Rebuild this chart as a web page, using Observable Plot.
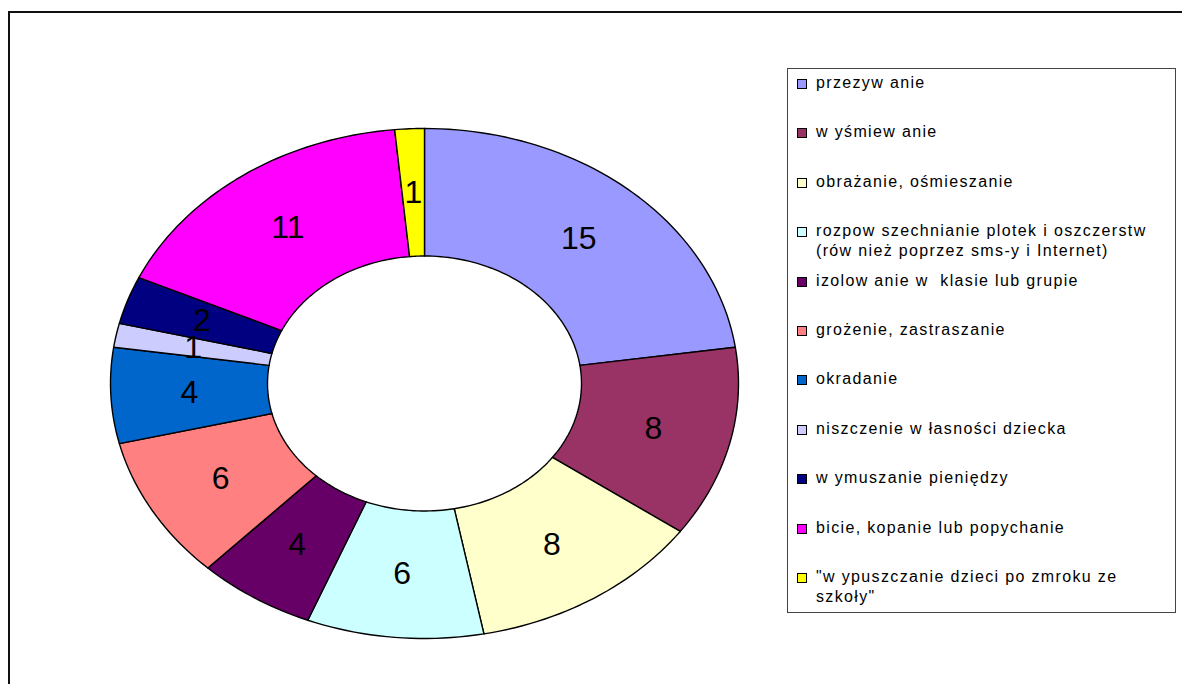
<!DOCTYPE html>
<html>
<head>
<meta charset="utf-8">
<script src="https://cdn.jsdelivr.net/npm/d3@7"></script>
<script src="https://cdn.jsdelivr.net/npm/@observablehq/plot@0.6"></script>
<style>
  html, body { margin: 0; padding: 0; background: #fff; }
  #wrap { position: relative; width: 1182px; height: 684px; overflow: hidden; font-family: "Liberation Sans", Arial, sans-serif; }
  #frame { position: absolute; left: 8px; top: 11px; width: 1300px; height: 800px; border-left: 2px solid #111; border-top: 2px solid #111; }
  #chart { position: absolute; left: 0; top: 0; }
  #legend { position: absolute; left: 787px; top: 68px; width: 389px; height: 545px; border: 1px solid #444; box-sizing: border-box; background: #fff; }
  .item { position: absolute; left: 0; width: 385px; font-size: 16px; letter-spacing: 1.35px; line-height: 20px; color: #000; white-space: pre; }
  .sw { position: absolute; left: 9px; top: 6px; width: 8px; height: 8px; border: 1px solid #000; }
  .lbl { position: absolute; left: 28px; top: 0; }
</style>
</head>
<body>
<div id="wrap">
  <div id="frame"></div>
  <div id="chart"></div>
  <div id="legend"></div>
</div>
<script>
const categories = [
  "przezyw anie",
  "w yśmiew anie",
  "obrażanie, ośmieszanie",
  "rozpow szechnianie plotek i oszczerstw\n(rów nież poprzez sms-y i Internet)",
  "izolow anie w  klasie lub grupie",
  "grożenie, zastraszanie",
  "okradanie",
  "niszczenie w łasności dziecka",
  "w ymuszanie pieniędzy",
  "bicie, kopanie lub popychanie",
  "\"w ypuszczanie dzieci po zmroku ze\nszkoły\""
];
const values = [15, 8, 8, 6, 4, 6, 4, 1, 2, 11, 1];
const colors = ["#9999FF", "#993366", "#FFFFCC", "#CCFFFF", "#660066", "#FF8080", "#0066CC", "#CCCCFF", "#000080", "#FF00FF", "#FFFF00"];

const innerRatio = 0.5;
const labelRadius = 0.75;
const total = d3.sum(values);
const cum = d3.cumsum(values);

// Build slice outlines in data space (unit ellipse), angles clockwise from top
const slices = values.map((v, i) => {
  const a0 = (cum[i] - v) / total * 2 * Math.PI;
  const a1 = cum[i] / total * 2 * Math.PI;
  const n = Math.max(8, Math.ceil((a1 - a0) / (2 * Math.PI) * 240));
  const pts = [];
  for (let k = 0; k <= n; k++) {
    const a = a0 + (a1 - a0) * k / n;
    pts.push({x: Math.sin(a), y: Math.cos(a)});
  }
  for (let k = n; k >= 0; k--) {
    const a = a0 + (a1 - a0) * k / n;
    pts.push({x: innerRatio * Math.sin(a), y: innerRatio * Math.cos(a)});
  }
  pts.push(pts[0]);
  const am = (a0 + a1) / 2;
  return {pts, label: {x: labelRadius * Math.sin(am), y: labelRadius * Math.cos(am), text: String(v)}};
});

const chart = Plot.plot({
  width: 1182,
  height: 684,
  margin: 0,
  x: {domain: [-1, 1], range: [110, 738], axis: null},
  y: {domain: [-1, 1], range: [638, 128], axis: null},
  style: {background: "transparent", fontFamily: "'Liberation Sans', Arial, sans-serif"},
  marks: [
    ...slices.map((s, i) => Plot.line(s.pts, {x: "x", y: "y", fill: colors[i], stroke: "#000", strokeWidth: 1.4, curve: "linear"})),
    Plot.text(slices.map(s => s.label), {x: "x", y: "y", text: "text", fontSize: 32, fill: "#000", fontFamily: "'Liberation Sans', Arial, sans-serif"})
  ]
});
document.getElementById("chart").appendChild(chart);

// Legend
const legend = document.getElementById("legend");
categories.forEach((c, i) => {
  const item = document.createElement("div");
  item.className = "item";
  item.style.top = (4 + i * 49.4) + "px";
  const sw = document.createElement("div");
  sw.className = "sw";
  sw.style.background = colors[i];
  const lbl = document.createElement("div");
  lbl.className = "lbl";
  lbl.textContent = c;
  item.appendChild(sw);
  item.appendChild(lbl);
  legend.appendChild(item);
});
</script>
</body>
</html>
